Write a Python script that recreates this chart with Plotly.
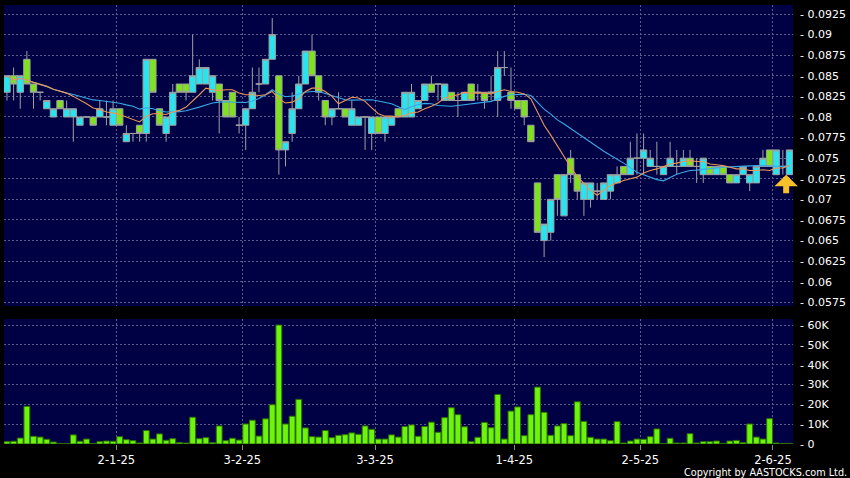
import plotly.graph_objects as go
import pandas as pd

# ---------------- data ----------------
holidays = ['2024-12-25', '2024-12-26', '2025-01-01', '2025-01-29', '2025-01-30',
            '2025-01-31', '2025-04-04', '2025-04-18', '2025-04-21', '2025-05-01', '2025-05-05']
dates = [d.strftime('%Y-%m-%d') for d in pd.bdate_range('2024-12-05', '2025-06-04')
         if d.strftime('%Y-%m-%d') not in holidays]

open_ = [0.083, 0.085, 0.083, 0.087, 0.084, 0.083, 0.081, 0.080, 0.082, 0.080,
         0.080, 0.079, 0.080, 0.080, 0.080, 0.080, 0.079, 0.081, 0.077, 0.078,
         0.079, 0.078, 0.087, 0.081, 0.078, 0.079, 0.084, 0.084, 0.083, 0.084,
         0.084, 0.083, 0.084, 0.082, 0.083, 0.079, 0.079, 0.081, 0.084, 0.084,
         0.087, 0.085, 0.076, 0.078, 0.081, 0.084, 0.088, 0.085, 0.082, 0.080,
         0.081, 0.081, 0.079, 0.079, 0.080, 0.078, 0.080, 0.078, 0.079, 0.081,
         0.080, 0.080, 0.081, 0.082, 0.084, 0.084, 0.082, 0.083, 0.082, 0.082,
         0.084, 0.083, 0.083, 0.083, 0.082, 0.086, 0.083, 0.082, 0.082, 0.079,
         0.072, 0.065, 0.066, 0.073, 0.068, 0.075, 0.073, 0.070, 0.070, 0.071,
         0.070, 0.071, 0.072, 0.074, 0.073, 0.075, 0.075, 0.074, 0.074, 0.073,
         0.074, 0.074, 0.074, 0.075, 0.074, 0.073, 0.074, 0.073, 0.074, 0.073,
         0.072, 0.073, 0.072, 0.072, 0.074, 0.076, 0.073, 0.074, 0.073]
high = [0.085, 0.086, 0.085, 0.088, 0.084, 0.083, 0.082, 0.081, 0.082, 0.082,
        0.081, 0.080, 0.080, 0.080, 0.082, 0.082, 0.082, 0.081, 0.079, 0.078,
        0.079, 0.087, 0.087, 0.081, 0.080, 0.084, 0.084, 0.084, 0.090, 0.087,
        0.086, 0.085, 0.084, 0.082, 0.083, 0.080, 0.081, 0.086, 0.086, 0.087,
        0.092, 0.085, 0.077, 0.083, 0.085, 0.088, 0.090, 0.085, 0.082, 0.081,
        0.083, 0.081, 0.082, 0.080, 0.080, 0.080, 0.080, 0.080, 0.080, 0.081,
        0.083, 0.084, 0.082, 0.084, 0.085, 0.084, 0.084, 0.083, 0.083, 0.083,
        0.084, 0.084, 0.083, 0.085, 0.088, 0.088, 0.086, 0.082, 0.082, 0.079,
        0.072, 0.067, 0.070, 0.073, 0.073, 0.076, 0.073, 0.072, 0.072, 0.072,
        0.072, 0.073, 0.074, 0.074, 0.077, 0.078, 0.078, 0.076, 0.077, 0.074,
        0.077, 0.076, 0.076, 0.076, 0.075, 0.075, 0.074, 0.074, 0.074, 0.073,
        0.073, 0.074, 0.073, 0.074, 0.076, 0.076, 0.076, 0.076, 0.076]
low = [0.082, 0.082, 0.081, 0.084, 0.081, 0.082, 0.081, 0.080, 0.081, 0.080,
       0.077, 0.079, 0.080, 0.079, 0.080, 0.079, 0.079, 0.079, 0.077, 0.077,
       0.077, 0.077, 0.083, 0.079, 0.077, 0.079, 0.083, 0.082, 0.083, 0.084,
       0.084, 0.082, 0.078, 0.080, 0.080, 0.078, 0.076, 0.081, 0.083, 0.084,
       0.087, 0.073, 0.074, 0.077, 0.081, 0.084, 0.085, 0.082, 0.079, 0.079,
       0.081, 0.080, 0.079, 0.079, 0.076, 0.076, 0.078, 0.077, 0.079, 0.080,
       0.080, 0.080, 0.081, 0.082, 0.083, 0.082, 0.082, 0.082, 0.080, 0.082,
       0.082, 0.082, 0.081, 0.082, 0.080, 0.085, 0.081, 0.081, 0.079, 0.077,
       0.066, 0.063, 0.065, 0.068, 0.068, 0.072, 0.070, 0.068, 0.069, 0.070,
       0.070, 0.070, 0.072, 0.073, 0.073, 0.073, 0.073, 0.074, 0.073, 0.073,
       0.074, 0.073, 0.074, 0.074, 0.072, 0.072, 0.073, 0.073, 0.073, 0.072,
       0.072, 0.073, 0.071, 0.072, 0.074, 0.074, 0.073, 0.073, 0.073]
close = [0.085, 0.084, 0.085, 0.084, 0.083, 0.083, 0.082, 0.081, 0.081, 0.081,
         0.081, 0.080, 0.080, 0.079, 0.081, 0.080, 0.081, 0.079, 0.078, 0.078,
         0.078, 0.087, 0.083, 0.079, 0.080, 0.083, 0.083, 0.083, 0.085, 0.086,
         0.086, 0.085, 0.082, 0.080, 0.080, 0.079, 0.081, 0.083, 0.084, 0.087,
         0.090, 0.076, 0.077, 0.081, 0.084, 0.088, 0.085, 0.083, 0.080, 0.081,
         0.081, 0.080, 0.081, 0.080, 0.080, 0.080, 0.078, 0.080, 0.080, 0.080,
         0.083, 0.083, 0.082, 0.084, 0.083, 0.084, 0.084, 0.082, 0.082, 0.083,
         0.082, 0.083, 0.082, 0.083, 0.086, 0.086, 0.082, 0.081, 0.080, 0.077,
         0.066, 0.067, 0.070, 0.070, 0.073, 0.073, 0.071, 0.072, 0.072, 0.071,
         0.072, 0.073, 0.073, 0.073, 0.075, 0.075, 0.076, 0.075, 0.074, 0.074,
         0.075, 0.074, 0.075, 0.074, 0.074, 0.075, 0.073, 0.074, 0.073, 0.072,
         0.073, 0.074, 0.073, 0.074, 0.075, 0.074, 0.076, 0.074, 0.076]
volume = [1200, 1400, 3000, 19000, 3900, 3500, 2400, 1000, 300, 300,
          4600, 1400, 2500, 300, 1200, 1500, 1400, 3700, 2200, 1700,
          500, 6800, 2500, 5100, 1900, 2700, 700, 500, 13500, 2700,
          3200, 700, 9100, 1700, 2900, 2000, 10100, 12000, 4000, 12700,
          19800, 60000, 10100, 14000, 22500, 8100, 3700, 3500, 6800, 3200,
          4400, 4700, 5600, 4900, 9100, 7400, 2500, 2500, 4600, 3500,
          8800, 9600, 3900, 8800, 11000, 5900, 13300, 18300, 14800, 8700,
          1200, 3400, 10900, 8200, 25000, 2500, 16600, 18700, 4200, 14800,
          28700, 16000, 4400, 9100, 10300, 4200, 21300, 11400, 3400, 2500,
          2500, 1700, 11300, 500, 1500, 2500, 2400, 3700, 7600, 200,
          2900, 500, 500, 5200, 500, 1200, 1200, 1500, 300, 1500,
          1800, 700, 10100, 3500, 2500, 12800, 500, 300, 300]

tick_dates = ['2025-01-02', '2025-02-03', '2025-03-03', '2025-04-01', '2025-05-02', '2025-06-02']
tick_labels = ['2-1-25', '3-2-25', '3-3-25', '1-4-25', '2-5-25', '2-6-25']
price_ticks = [0.0575, 0.06, 0.0625, 0.065, 0.0675, 0.07, 0.0725, 0.075,
               0.0775, 0.08, 0.0825, 0.085, 0.0875, 0.09, 0.0925]
price_tick_labels = ['0.0575', '0.06', '0.0625', '0.065', '0.0675', '0.07', '0.0725', '0.075',
                     '0.0775', '0.08', '0.0825', '0.085', '0.0875', '0.09', '0.0925']
vol_ticks = [0, 10000, 20000, 30000, 40000, 50000, 60000]
vol_tick_labels = ['0', '10K', '20K', '30K', '40K', '50K', '60K']
ma_short, ma_long = 10, 20
copyright_text = 'Copyright by AASTOCKS.com Ltd.'

# ---------------- styling ----------------
BG = '#000000'
PLOT_BG = '#000044'
GRID = '#5c5c8c'
CYAN = '#27e4ee'
GREEN = '#7fe21c'
WICK = '#a0a0a0'
VOL_GREEN = '#6cf40c'
VOL_EDGE = '#2e6e00'
ORANGE = '#ec9658'
BLUE = '#3aa8e8'
FONT = 'DejaVu Sans'

x = list(range(len(dates)))
ma_s = pd.Series(close).rolling(ma_short, min_periods=1).mean().tolist()
ma_l = pd.Series(close).rolling(ma_long, min_periods=1).mean().tolist()
grid_pos = [dates.index(d) - 0.5 for d in tick_dates]

fig = go.Figure()
fig.add_trace(go.Candlestick(
    x=x, open=open_, high=high, low=low, close=close,
    increasing=dict(fillcolor=CYAN, line=dict(color=WICK, width=1)),
    decreasing=dict(fillcolor=GREEN, line=dict(color=WICK, width=1)),
    whiskerwidth=0, xaxis='x', yaxis='y', showlegend=False, hoverinfo='skip'))
fig.add_trace(go.Scatter(x=x, y=ma_l, mode='lines', line=dict(color=BLUE, width=1.1),
                         xaxis='x', yaxis='y', showlegend=False, hoverinfo='skip'))
fig.add_trace(go.Scatter(x=x, y=ma_s, mode='lines', line=dict(color=ORANGE, width=1.1),
                         xaxis='x', yaxis='y', showlegend=False, hoverinfo='skip'))
fig.add_trace(go.Bar(x=x, y=volume, width=0.88,
                     marker=dict(color=VOL_GREEN, line=dict(color=VOL_EDGE, width=1)),
                     xaxis='x2', yaxis='y2', showlegend=False, hoverinfo='skip'))

xr = [-0.45, len(dates) - 0.47]
common_x = dict(range=xr, showgrid=True, gridcolor=GRID, griddash='2px,2px', gridwidth=1,
                zeroline=False, showline=False, tickvals=grid_pos, fixedrange=True)

fig.update_layout(
    width=850, height=478,
    margin=dict(l=4, r=50, t=5, b=34),
    paper_bgcolor=BG, plot_bgcolor=PLOT_BG,
    showlegend=False, boxgap=0.04, boxgroupgap=0, bargap=0.1,
    font=dict(family=FONT, color='white', size=11),
    xaxis=dict(domain=[0, 1], anchor='y', showticklabels=False, ticks='',
               rangeslider=dict(visible=False), **common_x),
    xaxis2=dict(domain=[0, 1], anchor='y2', ticktext=tick_labels, ticks='outside',
                ticklen=5, tickcolor='#8a8a8a', tickfont=dict(size=11.5, color='white'),
                **common_x),
    yaxis=dict(domain=[0.3144, 1], anchor='x', side='right', fixedrange=True,
               range=[0.057063, 0.093592], tickvals=price_ticks,
               ticktext=['- ' + s for s in price_tick_labels],
               showgrid=True, gridcolor=GRID, griddash='2px,2px', zeroline=False,
               ticks='', ticklabelstandoff=6, tickfont=dict(size=11, color='white')),
    yaxis2=dict(domain=[0, 0.2847], anchor='x2', side='right', fixedrange=True,
                range=[0, 63030], tickvals=vol_ticks,
                ticktext=['- ' + s for s in vol_tick_labels],
                showgrid=True, gridcolor=GRID, griddash='2px,2px', zeroline=False,
                ticks='', ticklabelstandoff=6, tickfont=dict(size=11, color='white')),
)

# marker arrow under the last candle
fig.add_annotation(x=x[-1] - 0.5, y=open_[-1], xref='x', yref='y', text='',
                   showarrow=True, ax=0, ay=20, arrowhead=1, arrowsize=0.65,
                   arrowwidth=6, arrowcolor='#f5c02a')
fig.add_annotation(x=1.0705, y=-0.064, xref='paper', yref='paper', text=copyright_text,
                   showarrow=False, xanchor='right', yanchor='middle',
                   font=dict(family=FONT, size=9.7, color='white'))

fig.write_html('out.html', config={'displayModeBar': False},
               post_script="document.body.style.margin='0';document.body.style.background='#000';")
